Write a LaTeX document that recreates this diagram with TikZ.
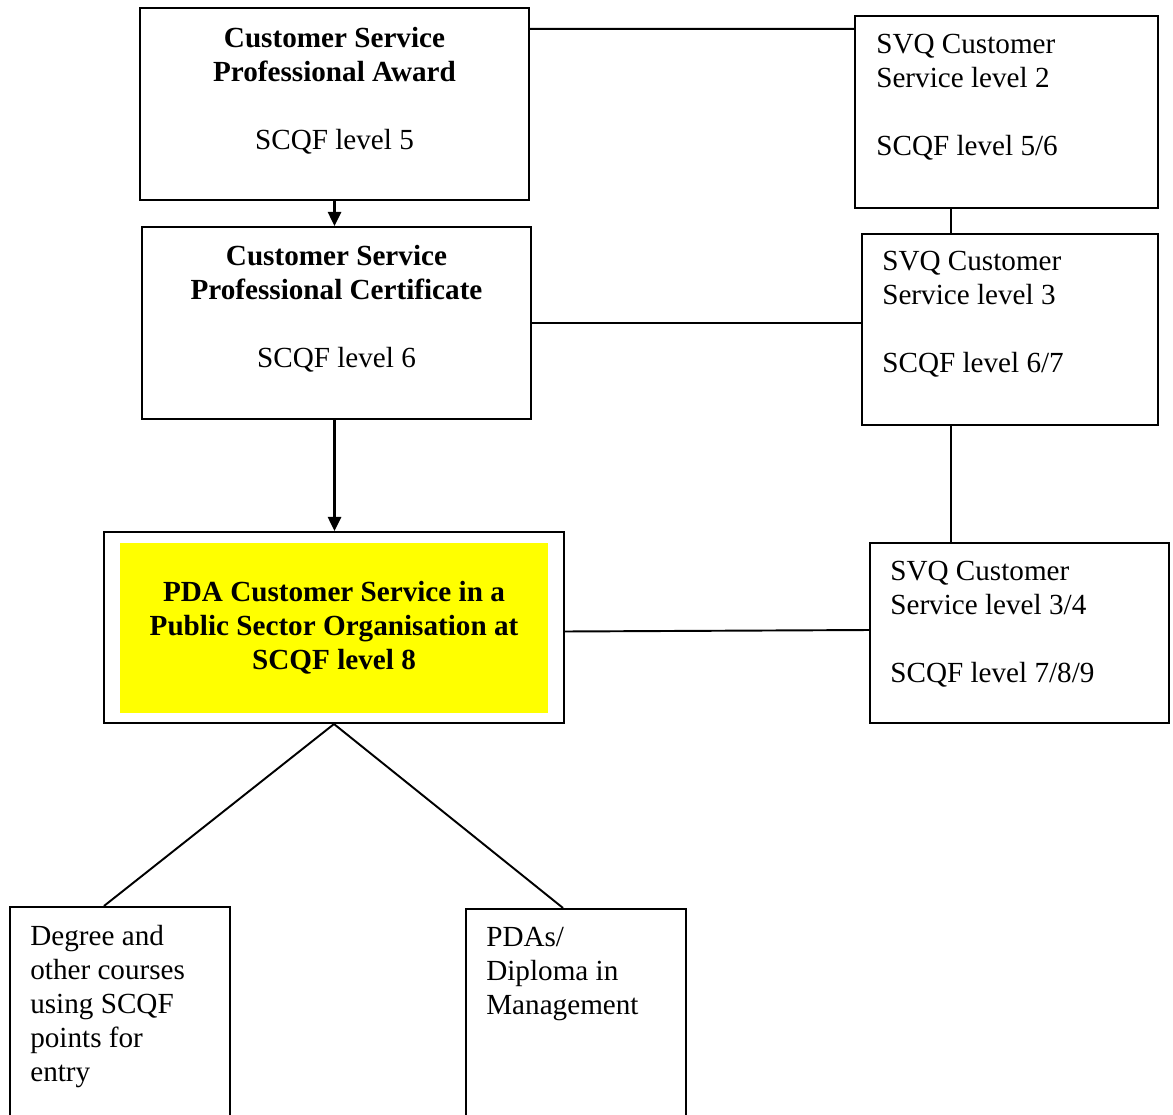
\documentclass[tikz,border=0pt]{standalone}
\usepackage{fontspec}
\setmainfont{Liberation Serif}
\usepackage{tikz}
\usetikzlibrary{positioning, calc, arrows.meta}

\newcommand\boxfont{\fontsize{16.6}{19.35}\selectfont}
\definecolor{pdayellow}{RGB}{255,255,0}

\tikzset{
    box/.style={draw, line width=1.2pt, rectangle, inner sep=0pt},
    txt/.style={inner sep=0pt, font=\boxfont},
    link/.style={line width=1.1pt},
    flow/.style={line width=1.5pt, -{Triangle[length=0.28cm,width=0.26cm]}}
}

\begin{document}
\begin{tikzpicture}[x=0.02cm,y=-0.02cm]

        % frame of the page
        \useasboundingbox (0,0) rectangle (1173,1115);

        % 1. Left column
        \node[box, minimum width=7.78cm, minimum height=3.84cm] (award) at (334.5,104) {};
        \node[txt, anchor=north, align=center] (awardtxt) at ([yshift=-0.4cm]award.north)
            {\textbf{Customer Service}\\\textbf{Professional Award}\\[0.68cm]SCQF level 5};

        \node[box, minimum width=7.78cm, minimum height=3.84cm] (cert) at (336.5,323) {};
        \node[txt, anchor=north, align=center] (certtxt) at ([yshift=-0.38cm]cert.north)
            {\textbf{Customer Service}\\\textbf{Professional Certificate}\\[0.68cm]SCQF level 6};

        % 2. The PDA (yellow box inside a frame)
        \node[box, minimum width=9.2cm, minimum height=3.82cm] (pda) at (334,627.5) {};
        \node[txt, fill=pdayellow, minimum width=8.56cm, minimum height=3.4cm, align=center] (pdafill) at (334,628)
            {\textbf{PDA Customer Service in a}\\\textbf{Public Sector Organisation at}\\\textbf{SCQF level 8}};

        % 3. Right column (SVQs)
        \node[box, minimum width=6.06cm, minimum height=3.84cm] (svqtwo) at (1006.5,112) {};
        \node[txt, anchor=north west, align=left] (svqtwotxt) at ([xshift=0.44cm,yshift=-0.38cm]svqtwo.north west)
            {SVQ Customer\\Service level 2\\[0.68cm]SCQF level 5/6};

        \node[box, minimum width=5.92cm, minimum height=3.82cm] (svqthree) at (1010,329.5) {};
        \node[txt, anchor=north west, align=left] (svqthreetxt) at ([xshift=0.42cm,yshift=-0.36cm]svqthree.north west)
            {SVQ Customer\\Service level 3\\[0.68cm]SCQF level 6/7};

        \node[box, minimum width=5.98cm, minimum height=3.6cm] (svqfour) at (1019.5,633) {};
        \node[txt, anchor=north west, align=left] (svqfourtxt) at ([xshift=0.42cm,yshift=-0.38cm]svqfour.north west)
            {SVQ Customer\\Service level 3/4\\[0.68cm]SCQF level 7/8/9};

        % 4. Progression boxes at the bottom
        \node[box, minimum width=4.4cm, minimum height=4.26cm] (degree) at (120,1013.5) {};
        \node[txt, anchor=north west, align=left] (degreetxt) at ([xshift=0.42cm,yshift=-0.38cm]degree.north west)
            {Degree and\\other courses\\using SCQF\\points for\\entry};

        \node[box, minimum width=4.4cm, minimum height=4.22cm] (diploma) at (576,1014.5) {};
        \node[txt, anchor=north west, align=left] (diplomatxt) at ([xshift=0.42cm,yshift=-0.38cm]diploma.north west)
            {PDAs/\\Diploma in\\Management};

        % 5. Connectors
        \draw[flow] (award.south) -- (award.south |- cert.north);
        \draw[flow] (award.south |- cert.south) -- (award.south |- pda.north);

        \draw[link] ([yshift=-0.44cm]award.north east) -- ([yshift=-0.28cm]svqtwo.north west);
        \draw[link] (cert.east) -- (cert.east -| svqthree.west);
        \draw[link] ([yshift=-0.08cm]pda.east) -- ([yshift=0.06cm]svqfour.west);

        \coordinate (spine) at (951,0);
        \draw[link] (svqtwo.south -| spine) -- (svqthree.north -| spine);
        \draw[link] (svqthree.south -| spine) -- (svqfour.north -| spine);

        \draw[link] (pda.south) -- ([xshift=-0.32cm]degree.north);
        \draw[link] (pda.south) -- ([xshift=-0.26cm]diploma.north);

\end{tikzpicture}
\end{document}
